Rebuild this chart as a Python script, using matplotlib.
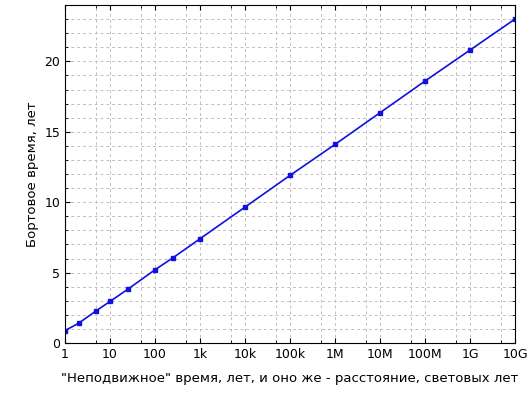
import matplotlib
matplotlib.use("Agg")
import matplotlib.pyplot as plt
from matplotlib.ticker import LogLocator, MultipleLocator, FixedLocator, NullFormatter

# coordinate time (years) and ship proper time (years)
t_coord = [1, 2, 5, 10, 25, 100, 250, 1e3, 1e4, 1e5, 1e6, 1e7, 1e8, 1e9, 1e10]
t_ship = [0.88, 1.40, 2.30, 2.95, 3.82, 5.20, 6.05, 7.40, 9.65, 11.9, 14.1, 16.35, 18.6, 20.8, 23.0]
xtick_vals = [1, 10, 100, 1e3, 1e4, 1e5, 1e6, 1e7, 1e8, 1e9, 1e10]
xtick_labels = ["1", "10", "100", "1k", "10k", "100k", "1M", "10M", "100M", "1G", "10G"]

fig = plt.figure(figsize=(5.3, 4.0), dpi=100)
ax = fig.add_axes([65 / 530, 57 / 400, 450 / 530, 338 / 400])
ax.plot(t_coord, t_ship, color="#1010e0", lw=1.2, marker="s", ms=3.5)
ax.set_xscale("log")
ax.set_xlim(1, 1e10)
ax.set_ylim(0, 24)
ax.xaxis.set_major_locator(FixedLocator(xtick_vals))
ax.set_xticklabels(xtick_labels)
ax.xaxis.set_minor_locator(LogLocator(base=10, subs=[5], numticks=20))
ax.xaxis.set_minor_formatter(NullFormatter())
ax.yaxis.set_major_locator(MultipleLocator(5))
ax.yaxis.set_minor_locator(MultipleLocator(1))
ax.grid(True, which="both", color="#c0c0c0", ls=(0, (3, 3)), lw=0.7)
ax.tick_params(which="both", direction="in", top=True, right=True, labelsize=9)
ax.set_xlabel('"Неподвижное" время, лет, и оно же - расстояние, световых лет', fontsize=9.5, labelpad=8)
ax.set_ylabel("Бортовое время, лет", fontsize=9.5)
fig.savefig("out.png")
